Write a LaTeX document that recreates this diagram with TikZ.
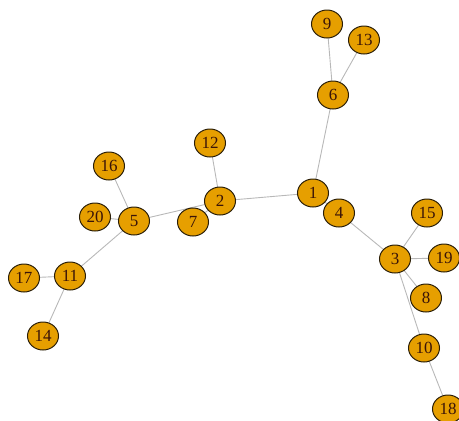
\documentclass[tikz,border=0pt]{standalone}
\usepackage{fontspec}
\setmainfont{Liberation Serif}
\usetikzlibrary{shapes.geometric,backgrounds}
\definecolor{vfill}{HTML}{E69F00}
\definecolor{vline}{HTML}{2A1E08}
\definecolor{vlabel}{HTML}{3A1408}
\definecolor{eline}{HTML}{B8B8B8}
\tikzset{
  vertex/.style={ellipse, draw=vline, line width=1pt, fill=vfill,
    minimum width=31pt, minimum height=28pt, inner sep=0pt,
    text=vlabel, font=\fontsize{17}{17}\selectfont},
  edge/.style={draw=eline, line width=0.9pt}
}
\begin{document}
\begin{tikzpicture}[x=1pt,y=-1pt]
\useasboundingbox (0,0) rectangle (459,421);
\node[vertex] (v9)  at (327,24)  {9};
\node[vertex] (v13) at (364,40)  {13};
\node[vertex] (v6)  at (333,95)  {6};
\node[vertex] (v12) at (210,143) {12};
\node[vertex] (v16) at (109,166) {16};
\node[vertex] (v1)  at (313,193) {1};
\node[vertex] (v2)  at (220,201) {2};
\node[vertex] (v4)  at (339,213) {4};
\node[vertex] (v15) at (427,213) {15};
\node[vertex] (v20) at (95,217)  {20};
\node[vertex] (v5)  at (134,221) {5};
\node[vertex] (v7)  at (193,222) {7};
\node[vertex] (v3)  at (395,259) {3};
\node[vertex] (v19) at (444,258) {19};
\node[vertex] (v17) at (24,278)  {17};
\node[vertex] (v11) at (70,276)  {11};
\node[vertex] (v8)  at (426,298) {8};
\node[vertex] (v14) at (43,336)  {14};
\node[vertex] (v10) at (424,348) {10};
\node[vertex] (v18) at (448,409) {18};
\begin{scope}[on background layer]
\foreach \a/\b in {v9/v6, v13/v6, v6/v1, v12/v2, v2/v1, v2/v7, v1/v4,
  v4/v3, v2/v5, v5/v16, v5/v20, v5/v11, v11/v17, v11/v14,
  v3/v15, v3/v19, v3/v8, v3/v10, v10/v18}
  \draw[edge] (\a.center) -- (\b.center);
\end{scope}
\end{tikzpicture}
\end{document}
